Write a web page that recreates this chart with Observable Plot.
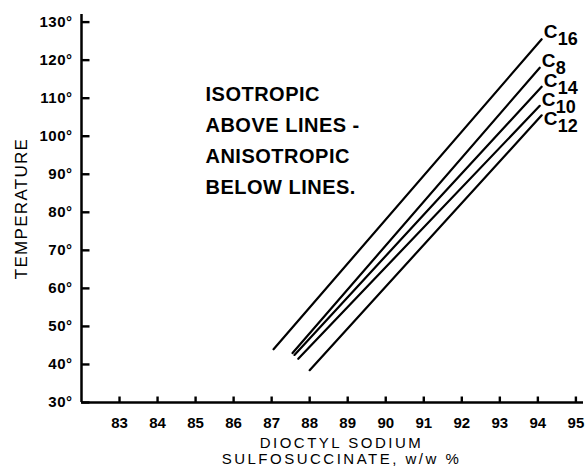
<!DOCTYPE html>
<html>
<head>
<meta charset="utf-8">
<script src="https://cdn.jsdelivr.net/npm/d3@7"></script>
<script src="https://cdn.jsdelivr.net/npm/@observablehq/plot@0.6"></script>
<style>
  html, body { margin: 0; padding: 0; background: #fff; }
  #chart svg { display: block; }
</style>
</head>
<body>
<div id="chart"></div>
<script>
// Series (line segments)
const series = ["C16", "C8", "C14", "C10", "C12"];
const subscripts = ["16", "8", "14", "10", "12"];
const xStart = [87.05, 87.55, 87.6, 87.7, 88.0];
const yStart = [44, 43, 42.5, 41.5, 38.5];
const xEnd = [94.1, 94.05, 94.1, 94.05, 94.1];
const yEnd = [125.5, 118, 113, 108, 105.5];
const labelY = [125.8, 118.2, 112.9, 107.9, 102.9];

const xTicks = [83, 84, 85, 86, 87, 88, 89, 90, 91, 92, 93, 94, 95];
const yTicks = [30, 40, 50, 60, 70, 80, 90, 100, 110, 120, 130];

const yLabel = "TEMPERATURE";
const xLabel1 = "DIOCTYL SODIUM";
const xLabel2 = "SULFOSUCCINATE, w/w %";
const note = "ISOTROPIC\nABOVE LINES -\nANISOTROPIC\nBELOW LINES.";
const noteX = 85.26, noteY = 115;

const xDomain = [82, 95.2];
const yDomain = [30, 132];

const rows = series.flatMap((s, i) => [
  {series: s, x: xStart[i], y: yStart[i]},
  {series: s, x: xEnd[i], y: yEnd[i]}
]);
const labels = series.map((s, i) => ({series: s, x: xEnd[i], y: labelY[i], sub: subscripts[i]}));

const font = "'Liberation Sans', Arial, sans-serif";
const W = 588, H = 469, ML = 81, MR = 5, MT = 14, MB = 67;
// tick lengths in data units (about 8 px and 6 px)
const yTickLen = 8 * (xDomain[1] - xDomain[0]) / (W - ML - MR);
const xTickLen = 6 * (yDomain[1] - yDomain[0]) / (H - MT - MB);

const chart = Plot.plot({
  width: W,
  height: H,
  marginLeft: ML,
  marginRight: MR,
  marginTop: MT,
  marginBottom: MB,
  style: {background: "#fff", color: "#000"},
  x: {domain: xDomain},
  y: {domain: yDomain},
  marks: [
    Plot.ruleX([xDomain[0]], {strokeWidth: 2.5}),
    Plot.ruleY([yDomain[0]], {strokeWidth: 2.5}),
    // inward tick marks
    Plot.link(yTicks, {x1: () => xDomain[0], x2: () => xDomain[0] + yTickLen, y1: d => d, y2: d => d,
      stroke: "#000", strokeWidth: 2.4}),
    Plot.link(xTicks, {x1: d => d, x2: d => d, y1: () => yDomain[0], y2: () => yDomain[0] + xTickLen,
      stroke: "#000", strokeWidth: 2.4}),
    // tick labels
    Plot.axisY(yTicks, {tickSize: 0, tickPadding: 9, tickFormat: d => d + "°",
      fontSize: 15, fontWeight: "bold", fontFamily: font, label: null}),
    Plot.axisX(xTicks, {tickSize: 0, tickPadding: 15, tickFormat: d => String(d),
      fontSize: 15, fontWeight: "bold", fontFamily: font, label: null}),
    Plot.line(rows, {x: "x", y: "y", z: "series", stroke: "#000", strokeWidth: 2.2}),
    Plot.text(labels, {x: "x", y: "y", text: () => "C", textAnchor: "start", lineAnchor: "bottom",
      dx: 2, fontSize: 19, fontWeight: "bold", fontFamily: font}),
    Plot.text(labels, {x: "x", y: "y", text: "sub", textAnchor: "start", lineAnchor: "bottom",
      dx: 16, dy: 7, fontSize: 18, fontWeight: "bold", fontFamily: font}),
    Plot.text([note], {x: () => noteX, y: () => noteY, text: d => d, textAnchor: "start", lineAnchor: "top",
      lineHeight: 1.55, fontSize: 20, fontWeight: "bold", fontFamily: font}),
    Plot.text([yLabel], {frameAnchor: "left", text: d => d, rotate: -90, dx: -60, textAnchor: "middle",
      fontSize: 17, fontFamily: font}),
    Plot.text([xLabel1], {frameAnchor: "bottom", text: d => d, dx: 9, dy: 35, lineAnchor: "top",
      fontSize: 15, fontFamily: font}),
    Plot.text([xLabel2], {frameAnchor: "bottom", text: d => d, dx: 9, dy: 51, lineAnchor: "top",
      fontSize: 15, fontFamily: font})
  ]
});

document.getElementById("chart").appendChild(chart);

// letter spacing tweaks
const svg = d3.select(chart);
svg.selectAll('g[aria-label="text"]').each(function() {
  const g = d3.select(this);
  const txt = g.text();
  if (txt.startsWith("ISOTROPIC")) g.style("letter-spacing", "0.5px");
  else if (txt.startsWith("TEMPERATURE")) g.style("letter-spacing", "1.3px");
  else if (txt.startsWith("DIOCTYL") || txt.startsWith("SULFO")) g.style("letter-spacing", "2.5px");
});
svg.selectAll('g[aria-label="y-axis tick label"]').style("letter-spacing", "0.5px");
</script>
</body>
</html>
